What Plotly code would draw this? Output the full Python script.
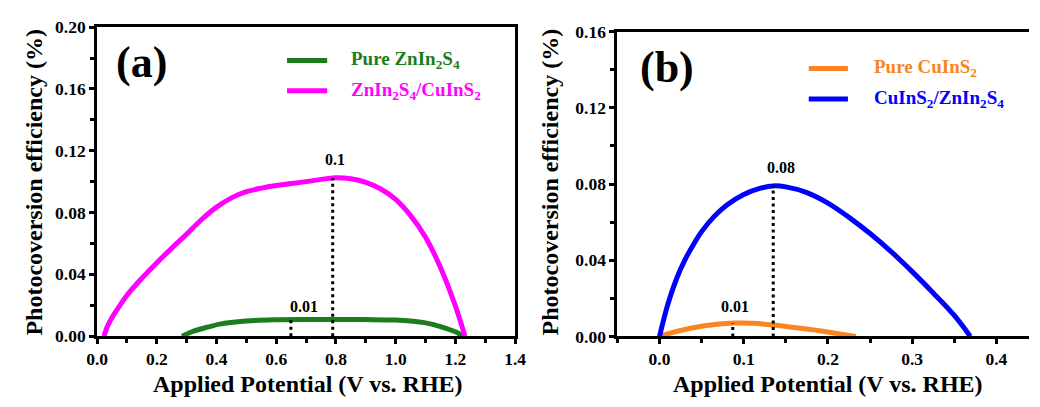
import plotly.graph_objects as go

# ---- Panel (a): ZnIn2S4 photoanodes ----
pot_zis = [0.284, 0.32, 0.37, 0.41, 0.5, 0.6, 0.7, 0.8, 0.9, 1.0, 1.05, 1.1, 1.15, 1.2, 1.225]
eff_zis = [0.0, 0.003, 0.0058, 0.0078, 0.0098, 0.0106, 0.0108, 0.0108, 0.0107, 0.0104,
           0.0098, 0.0086, 0.0062, 0.0028, 0.0]

pot_zis_cis = [0.023, 0.035, 0.05, 0.075, 0.1, 0.15, 0.2, 0.25, 0.3, 0.35, 0.4, 0.45, 0.5, 0.55,
               0.6, 0.7, 0.8, 0.85, 0.9, 0.95, 1.0, 1.05, 1.1, 1.15, 1.2, 1.232]
eff_zis_cis = [0.0, 0.0065, 0.012, 0.0195, 0.0265, 0.0375, 0.0475, 0.057, 0.066, 0.0755, 0.0835,
               0.0895, 0.0935, 0.0958, 0.0975, 0.1, 0.1025, 0.1018, 0.0995, 0.0952, 0.0885,
               0.078, 0.064, 0.0445, 0.0195, 0.0]

# maximum-efficiency markers (potential, efficiency)
peak_a_x = [0.649, 0.789]
peak_a_y = [0.0106, 0.1024]

# ---- Panel (b): CuInS2 photocathodes ----
pot_cis = [0.0, 0.02, 0.05, 0.075, 0.09, 0.11, 0.135, 0.16, 0.19, 0.21, 0.233]
eff_cis = [0.0, 0.0026, 0.0053, 0.0066, 0.007, 0.0069, 0.006, 0.0047, 0.003, 0.0016, 0.0]

pot_cis_zis = [0.0, 0.01, 0.02, 0.03, 0.04, 0.05, 0.065, 0.08, 0.1, 0.12, 0.135, 0.15, 0.175,
               0.2, 0.225, 0.25, 0.275, 0.3, 0.325, 0.35, 0.369]
eff_cis_zis = [0.0, 0.017, 0.030, 0.040, 0.048, 0.055, 0.063, 0.069, 0.0745, 0.0778, 0.079,
               0.0785, 0.0755, 0.070, 0.0625, 0.054, 0.0445, 0.034, 0.0228, 0.011, 0.0]

peak_b_x = [0.087, 0.135]
peak_b_y = [0.007, 0.079]

names_a = ["Pure ZnIn<sub>2</sub>S<sub>4</sub>", "ZnIn<sub>2</sub>S<sub>4</sub>/CuInS<sub>2</sub>"]
names_b = ["Pure CuInS<sub>2</sub>", "CuInS<sub>2</sub>/ZnIn<sub>2</sub>S<sub>4</sub>"]
x_title = "Applied Potential (V vs. RHE)"
y_title = "Photocoversion efficiency (%)"

GREEN = "#1b7d1b"
MAGENTA = "#ff00ff"
ORANGE = "#fa8520"
BLUE = "#0000ff"
FONT = "Times New Roman, Liberation Serif, serif"

W, H = 1040, 407


def px(xp):
    return xp / W


def py(yp):
    return 1 - yp / H


fig = go.Figure()

curve_w = 5
spline = dict(shape="spline", smoothing=1.0)
fig.add_trace(go.Scatter(x=pot_zis, y=eff_zis, mode="lines", line=dict(color=GREEN, width=curve_w, **spline),
                         xaxis="x", yaxis="y", showlegend=False))
fig.add_trace(go.Scatter(x=pot_zis_cis, y=eff_zis_cis, mode="lines", line=dict(color=MAGENTA, width=curve_w, **spline),
                         xaxis="x", yaxis="y", showlegend=False))
fig.add_trace(go.Scatter(x=pot_cis, y=eff_cis, mode="lines", line=dict(color=ORANGE, width=curve_w, **spline),
                         xaxis="x2", yaxis="y2", showlegend=False))
fig.add_trace(go.Scatter(x=pot_cis_zis, y=eff_cis_zis, mode="lines", line=dict(color=BLUE, width=curve_w, **spline),
                         xaxis="x2", yaxis="y2", showlegend=False))

# dotted drop lines at the maxima, with their values
label_font = dict(family=FONT, size=16, color="black", weight="bold")
for xs, ys, xa, ya in [(peak_a_x, peak_a_y, "x", "y"), (peak_b_x, peak_b_y, "x2", "y2")]:
    for xv, yv in zip(xs, ys):
        fig.add_trace(go.Scatter(x=[xv, xv], y=[0, yv], mode="lines",
                                 line=dict(color="black", width=3, dash="3px,3.5px"),
                                 xaxis=xa, yaxis=ya, showlegend=False))

label_pos_a = [(0.638, 0.0125, "left"), (0.798, 0.1075, "center")]
for (xv, yv), (lx, ly, anc) in zip(zip(peak_a_x, peak_a_y), label_pos_a):
    fig.add_annotation(x=lx, y=ly, xref="x", yref="y", text=f"{round(yv, 2):g}", showarrow=False,
                       xanchor=anc, yanchor="bottom", font=label_font)
label_pos_b = [(0.090, 0.010, "center"), (0.144, 0.083, "center")]
for (xv, yv), (lx, ly, anc) in zip(zip(peak_b_x, peak_b_y), label_pos_b):
    fig.add_annotation(x=lx, y=ly, xref="x2", yref="y2", text=f"{round(yv, 2):g}", showarrow=False,
                       xanchor=anc, yanchor="bottom", font=label_font)

# legends drawn as line samples + coloured labels
legend_font_size = 19
for (x0, x1, tx, rows) in [
    (282, 323, 345, [(53, GREEN, names_a[0]), (85, MAGENTA, names_a[1])]),
    (815, 855, 880, [(61.5, ORANGE, names_b[0]), (93.5, BLUE, names_b[1])]),
]:
    for yp, col, name in rows:
        fig.add_shape(type="line", xref="paper", yref="paper", x0=px(x0), x1=px(x1), y0=py(yp), y1=py(yp),
                      line=dict(color=col, width=5))
        fig.add_annotation(x=px(tx), y=py(yp), xref="paper", yref="paper", text=name, showarrow=False,
                           xanchor="left", yanchor="middle",
                           font=dict(family=FONT, size=legend_font_size, color=col, weight="bold"))

# panel letters
for txt, xp, yp in [("(a)", 133, 55), ("(b)", 670, 60)]:
    fig.add_annotation(x=px(xp), y=py(yp), xref="paper", yref="paper", text=txt, showarrow=False,
                       xanchor="center", yanchor="middle",
                       font=dict(family=FONT, size=44, color="black", weight="bold"))

# axis titles
title_font = dict(family=FONT, size=24, color="black", weight="bold")
for xp in [303, 835]:
    fig.add_annotation(x=px(xp), y=py(393), xref="paper", yref="paper", text=x_title, showarrow=False,
                       xanchor="center", yanchor="middle", font=title_font)
for xp in [24, 551]:
    fig.add_annotation(x=px(xp), y=py(181), xref="paper", yref="paper", text=y_title, showarrow=False,
                       xanchor="center", yanchor="middle", textangle=-90, font=title_font)

tick_font = dict(family=FONT, size=17.5, color="black", weight="bold")
axis_common = dict(showgrid=False, zeroline=False, showline=True, linecolor="black", linewidth=3,
                   ticks="outside", ticklen=5, tickwidth=2.5, tickcolor="black", tickfont=tick_font)

fig.update_layout(
    width=W, height=H,
    margin=dict(l=0, r=0, t=0, b=0),
    paper_bgcolor="white", plot_bgcolor="white",
    xaxis=dict(domain=[px(88), px(515)], range=[0, 1.4], tick0=0, dtick=0.2, tickformat=".1f",
               mirror=True, anchor="y",
               minor=dict(dtick=0.1, ticklen=4, tickwidth=2.5, tickcolor="black", ticks="outside"),
               **axis_common),
    yaxis=dict(domain=[1 - 343 / H, 1 - 18 / H], range=[0, 0.2], tick0=0, dtick=0.04, tickformat=".2f",
               mirror=True, anchor="x",
               minor=dict(dtick=0.02, ticklen=4, tickwidth=2.5, tickcolor="black", ticks="outside"),
               **axis_common),
    xaxis2=dict(domain=[px(619.5), 1.0], range=[-0.05, 0.4387], tick0=0, dtick=0.1, tickformat=".1f",
                mirror=True, anchor="y2",
                minor=dict(dtick=0.05, tick0=0, ticklen=4, tickwidth=2.5, tickcolor="black", ticks="outside"),
                **axis_common),
    yaxis2=dict(domain=[1 - 343.3 / H, 1 - 22.7 / H], range=[0, 0.16], tick0=0, dtick=0.04, tickformat=".2f",
                mirror=False, anchor="x2",
                minor=dict(dtick=0.02, ticklen=4, tickwidth=2.5, tickcolor="black", ticks="outside"),
                **axis_common),
)

fig.write_html("out.html")
